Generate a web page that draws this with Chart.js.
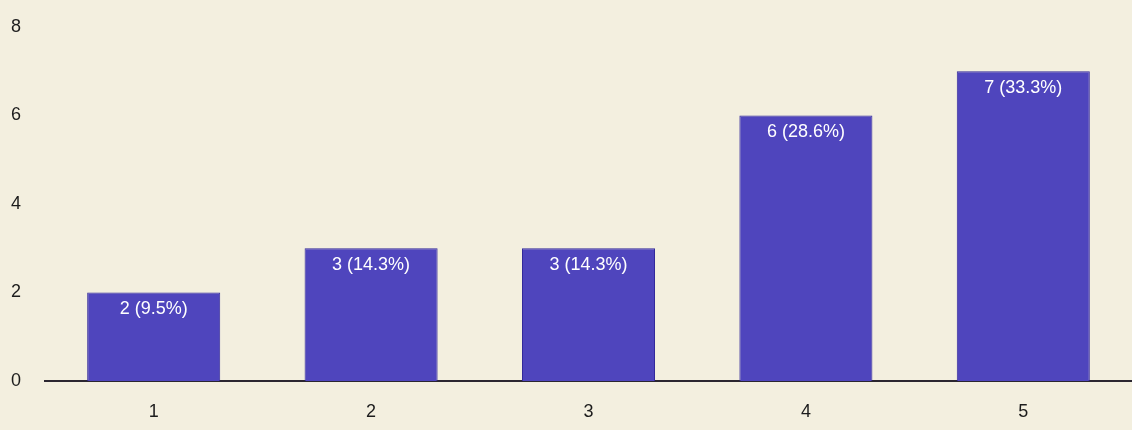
<!DOCTYPE html>
<html>
<head>
<meta charset="utf-8">
<script src="https://cdn.jsdelivr.net/npm/chart.js@4/dist/chart.umd.min.js"></script>
<style>
  html, body { margin: 0; padding: 0; background: #f3efdf; }
  #wrap { width: 1132px; height: 430px; position: relative; }
</style>
</head>
<body>
<div id="wrap"><canvas id="chart"></canvas></div>
<script>
const categories = ["1", "2", "3", "4", "5"];
const counts = [2, 3, 3, 6, 7];
const percents = ["9.5%", "14.3%", "14.3%", "28.6%", "33.3%"];

// draws "n (x%)" inside the top of each bar
const barLabels = {
  id: "barLabels",
  afterDatasetsDraw(chart) {
    const ctx = chart.ctx;
    const meta = chart.getDatasetMeta(0);
    ctx.save();
    ctx.fillStyle = "#ffffff";
    ctx.font = "18px 'Liberation Sans', Arial, sans-serif";
    ctx.textAlign = "center";
    ctx.textBaseline = "middle";
    meta.data.forEach((bar, i) => {
      ctx.fillText(counts[i] + " (" + percents[i] + ")", bar.x, bar.y + 17);
    });
    ctx.restore();
  }
};

new Chart(document.getElementById("chart"), {
  type: "bar",
  data: {
    labels: categories,
    datasets: [{
      data: counts,
      backgroundColor: "#4f45bd",
      borderColor: "#33299a",
      borderWidth: 1,
      categoryPercentage: 0.8,
      barPercentage: 0.765
    }]
  },
  options: {
    responsive: true,
    maintainAspectRatio: false,
    animation: false,
    layout: { padding: { top: 27, right: 0, left: 0, bottom: 0 } },
    plugins: {
      legend: { display: false },
      tooltip: { enabled: false }
    },
    scales: {
      x: {
        grid: { display: false, drawTicks: false },
        border: { display: true, color: "#2b2630", width: 2 },
        ticks: {
          color: "#1c1c1c",
          padding: 20,
          font: { size: 18, family: "'Liberation Sans', Arial, sans-serif" }
        },
        afterFit(scale) { scale.height = 49; }
      },
      y: {
        min: 0,
        max: 8,
        grid: { display: false, drawTicks: false },
        border: { display: false },
        ticks: {
          stepSize: 2,
          color: "#1c1c1c",
          padding: 24,
          font: { size: 18, family: "'Liberation Sans', Arial, sans-serif" }
        },
        afterFit(scale) {
          scale.width = 45;
          scale.paddingTop = 0;
          scale.paddingBottom = 0;
        }
      }
    }
  },
  plugins: [barLabels]
});
</script>
</body>
</html>
